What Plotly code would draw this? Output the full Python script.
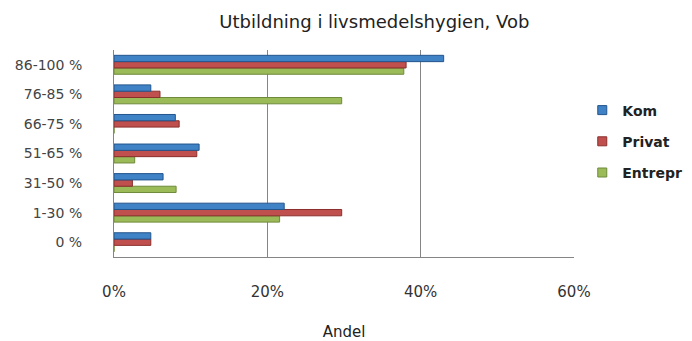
import plotly.graph_objects as go

categories = ["0 %", "1-30 %", "31-50 %", "51-65 %", "66-75 %", "76-85 %", "86-100 %"]
kom = [4.8, 22.2, 6.4, 11.1, 8.0, 4.8, 43.0]
privat = [4.8, 29.7, 2.4, 10.8, 8.5, 6.0, 38.1]
entrepr = [0, 21.6, 8.1, 2.7, 0, 29.7, 37.8]

series = [
    ("Entrepr", entrepr, "#9bbb59", "#6f8a3a", 3),
    ("Privat", privat, "#c0504d", "#8a2f2c", 2),
    ("Kom", kom, "#3f82c6", "#23558c", 1),
]

fig = go.Figure()
for name, vals, color, edge, rank in series:
    fig.add_trace(go.Bar(
        y=categories, x=vals, name=name, orientation="h",
        marker=dict(color=color, line=dict(color=edge, width=1)),
        showlegend=False, legendgroup=name,
    ))
    # small square legend key
    fig.add_trace(go.Scatter(
        x=[None], y=[None], mode="markers", name=name,
        marker=dict(symbol="square", size=9, color=color,
                    line=dict(color=edge, width=1)),
        legendgroup=name, legendrank=rank, hoverinfo="skip",
    ))

fig.update_layout(
    width=692, height=341,
    margin=dict(l=114, r=118, t=50, b=84, autoexpand=False),
    paper_bgcolor="white", plot_bgcolor="white",
    barmode="group", bargap=0.36, bargroupgap=0.0,
    font=dict(family="DejaVu Sans", size=14, color="#333"),
    title=dict(text="Utbildning i livsmedelshygien, Vob", x=0.541, xanchor="center",
               y=0.935, yanchor="middle", font=dict(size=18, color="#222")),
    legend=dict(x=1.018, y=0.785, xanchor="left", yanchor="top",
                font=dict(size=14, color="#222", weight="bold"), tracegroupgap=10,
                itemwidth=30, bgcolor="rgba(0,0,0,0)"),
    showlegend=True,
)
fig.update_xaxes(
    range=[0, 60], tickvals=[0, 20, 40, 60], ticktext=["0%", "20%", "40%", "60%"],
    showgrid=True, gridcolor="#858585", gridwidth=1,
    showline=True, linecolor="#858585", zeroline=False,
    ticklabelstandoff=21, tickfont=dict(size=15, color="#333"),
    title=dict(text="Andel", font=dict(size=15, color="#222"), standoff=28),
    fixedrange=True,
)
fig.update_yaxes(
    categoryorder="array", categoryarray=categories,
    showline=True, linecolor="#858585", showgrid=False,
    ticklabelstandoff=28, tickfont=dict(size=14, color="#444"),
    fixedrange=True,
)

fig.write_html("out.html")
